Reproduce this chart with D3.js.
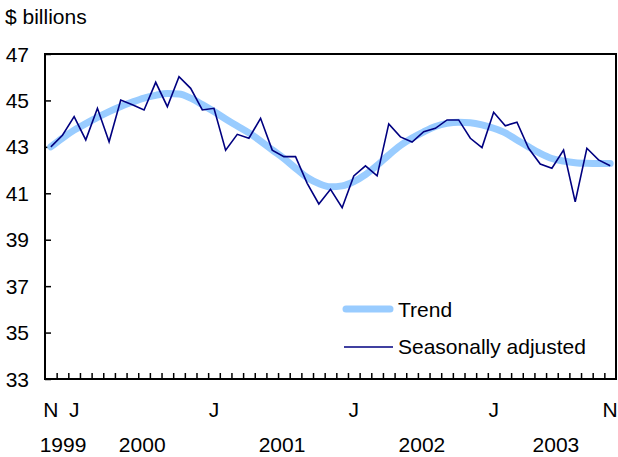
<!DOCTYPE html>
<html>
<head>
<meta charset="UTF-8">
<title>Trend and seasonally adjusted</title>
<script src="https://cdn.jsdelivr.net/npm/d3@7/dist/d3.min.js"></script>
<style>
  body { margin: 0; background: #fff; }
  svg text { font-family: Arial, "Liberation Sans", sans-serif; font-size: 21px; fill: #000; }
</style>
</head>
<body>
<div id="chart"></div>
<script>
// monthly, Nov 1999 .. Nov 2003
var months = [
  "1999-11","1999-12",
  "2000-01","2000-02","2000-03","2000-04","2000-05","2000-06","2000-07","2000-08","2000-09","2000-10","2000-11","2000-12",
  "2001-01","2001-02","2001-03","2001-04","2001-05","2001-06","2001-07","2001-08","2001-09","2001-10","2001-11","2001-12",
  "2002-01","2002-02","2002-03","2002-04","2002-05","2002-06","2002-07","2002-08","2002-09","2002-10","2002-11","2002-12",
  "2003-01","2003-02","2003-03","2003-04","2003-05","2003-06","2003-07","2003-08","2003-09","2003-10","2003-11"
];

var seasonallyAdjusted = [
  43.0, 43.5,
  44.3, 43.3, 44.66, 43.22, 45.02, 44.81, 44.59, 45.78, 44.73, 46.02, 45.52, 44.59,
  44.66, 42.86, 43.54, 43.37, 44.23, 42.86, 42.58, 42.58, 41.43, 40.54, 41.17, 40.38,
  41.75, 42.18, 41.75, 43.99, 43.43, 43.21, 43.65, 43.8, 44.16, 44.16, 43.37, 42.97,
  44.49, 43.91, 44.06, 42.94, 42.26, 42.08, 42.86, 40.63, 42.94, 42.44, 42.19
];

var trend = [
  43.0, 43.38,
  43.72, 44.0, 44.27, 44.52, 44.74, 44.93, 45.1, 45.22, 45.3, 45.28, 45.1, 44.82,
  44.52, 44.2, 43.9, 43.6, 43.25, 42.87, 42.5, 42.08, 41.68, 41.42, 41.28, 41.32,
  41.5, 41.8, 42.2, 42.65, 43.06, 43.38, 43.65, 43.88, 44.01, 44.06, 44.04, 43.95,
  43.8, 43.6, 43.3, 43.0, 42.72, 42.5, 42.39, 42.32, 42.29, 42.28, 42.28
];

var yTicks = [33, 35, 37, 39, 41, 43, 45, 47];
var monthTickAt = ["1999-11", "2000-01", "2001-01", "2002-01", "2003-01", "2003-11"];
var monthTickText = ["N", "J", "J", "J", "J", "N"];
var years = ["1999", "2000", "2001", "2002", "2003"];

var W = 618, H = 457;
var plotL = 45, plotR = 616, plotT = 54, plotB = 379;

var svg = d3.select("#chart").append("svg")
  .attr("width", W)
  .attr("height", H);

var x = d3.scaleBand().domain(months).range([plotL, plotR]);
var cx = function(m) { return x(m) + x.bandwidth() / 2; };
var y = d3.scaleLinear().domain([33, 47]).range([plotB, plotT]);
// boundaries between months, for the small ticks
var xb = d3.scaleLinear().domain([0, months.length]).range([plotL, plotR]);

// unit label
svg.append("text").attr("x", 5).attr("y", 23.5).text("$ billions");

// y axis: ticks inside, labels on the left
var yAxis = d3.axisLeft(y).tickValues(yTicks).tickSizeInner(-6).tickSizeOuter(0).tickPadding(16);
var gy = svg.append("g").attr("transform", "translate(" + plotL + ",0)").call(yAxis);
gy.select(".domain").remove();
gy.selectAll(".tick line").attr("stroke", "#000").attr("stroke-width", 1.5);
gy.selectAll(".tick text").attr("dy", "0.34em");
gy.attr("font-size", null).attr("font-family", null);

// x axis: small ticks between months
var xTicks = d3.axisBottom(xb).tickValues(d3.range(1, months.length)).tickSizeInner(-6).tickSizeOuter(0).tickFormat("");
var gx = svg.append("g").attr("transform", "translate(0," + plotB + ")").call(xTicks);
gx.select(".domain").remove();
gx.selectAll(".tick line").attr("stroke", "#000").attr("stroke-width", 1.5);

// month letters
var xLab = d3.axisBottom(x).tickValues(monthTickAt).tickSize(0).tickPadding(23)
  .tickFormat(function(d) { return monthTickText[monthTickAt.indexOf(d)]; });
var gl = svg.append("g").attr("transform", "translate(0," + plotB + ")").call(xLab);
gl.select(".domain").remove();
gl.attr("font-size", null).attr("font-family", null);

// year labels, centred on each year's span
svg.selectAll(".year").data(years).enter().append("text")
  .attr("class", "year")
  .attr("text-anchor", "middle")
  .attr("y", 452)
  .attr("x", function(yr) {
    var ms = months.filter(function(m) { return m.slice(0, 4) === yr; });
    var c = (x(ms[0]) + x(ms[ms.length - 1]) + x.bandwidth()) / 2 + 4;
    return Math.max(c, 63);
  })
  .text(function(d) { return d; });

// lines
var trendLine = d3.line()
  .x(function(d, i) { return cx(months[i]); })
  .y(function(d) { return y(d); })
  .curve(d3.curveMonotoneX);

var saLine = d3.line()
  .x(function(d, i) { return cx(months[i]); })
  .y(function(d) { return y(d); });

svg.append("path").datum(trend)
  .attr("d", trendLine)
  .attr("fill", "none")
  .attr("stroke", "#99ccff")
  .attr("stroke-width", 7)
  .attr("stroke-linecap", "round")
  .attr("stroke-linejoin", "round");

svg.append("path").datum(seasonallyAdjusted)
  .attr("d", saLine)
  .attr("fill", "none")
  .attr("stroke", "#000080")
  .attr("stroke-width", 1.6)
  .attr("stroke-linejoin", "miter");

// frame
svg.append("rect")
  .attr("x", plotL).attr("y", plotT)
  .attr("width", plotR - plotL).attr("height", plotB - plotT)
  .attr("fill", "none")
  .attr("stroke", "#000")
  .attr("stroke-width", 2);

// legend
var lg = svg.append("g");
lg.append("line").attr("x1", 346).attr("x2", 390).attr("y1", 309).attr("y2", 309)
  .attr("stroke", "#99ccff").attr("stroke-width", 7).attr("stroke-linecap", "round");
lg.append("text").attr("x", 398).attr("y", 317).text("Trend");
lg.append("line").attr("x1", 344).attr("x2", 393).attr("y1", 347).attr("y2", 347)
  .attr("stroke", "#000080").attr("stroke-width", 1.6);
lg.append("text").attr("x", 398).attr("y", 354).text("Seasonally adjusted");
</script>
</body>
</html>
